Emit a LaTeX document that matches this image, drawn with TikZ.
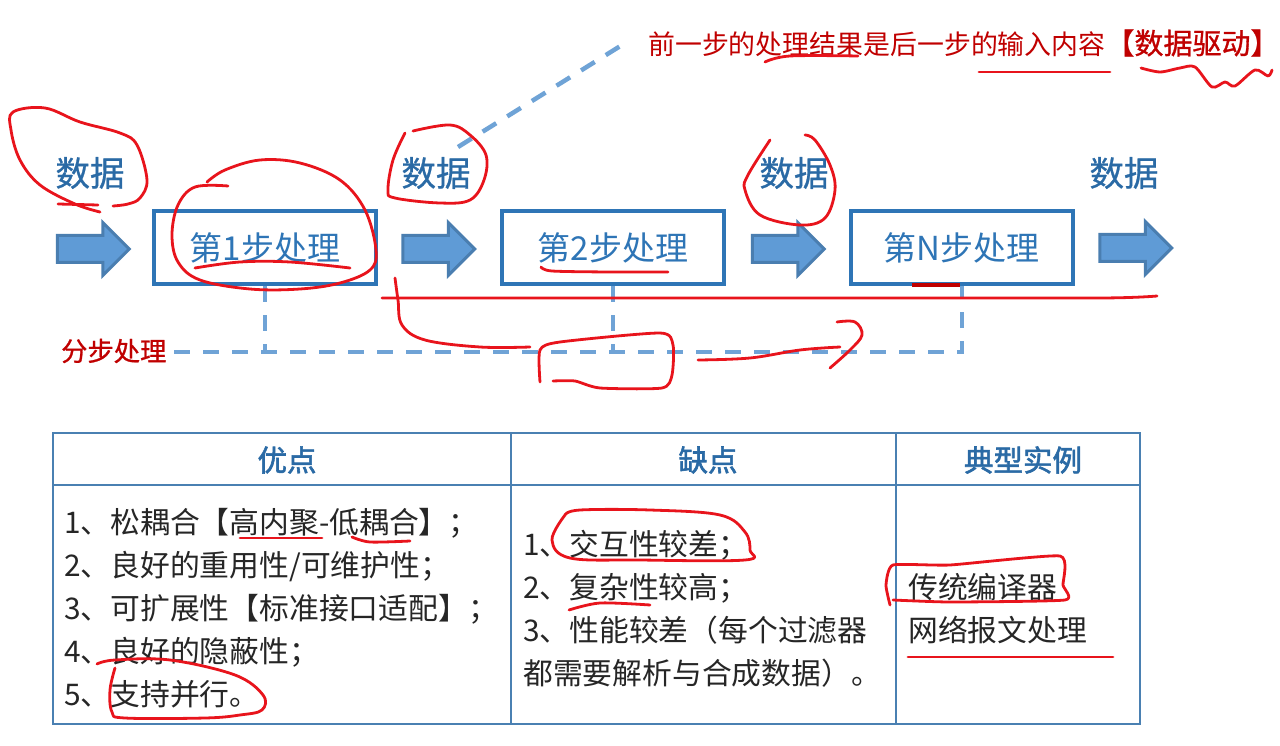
\documentclass[tikz,border=0pt]{standalone}
\usepackage{fontspec}
\setmainfont{Noto Sans CJK SC}
\newfontfamily\medfont[FakeBold=1]{Noto Sans CJK SC}
\newfontfamily\headfont[FakeBold=2]{Noto Sans CJK SC}
\newfontfamily\lightbold[FakeBold=0.8]{Noto Sans CJK SC}
\usetikzlibrary{shapes.arrows}
\definecolor{boxblue}{HTML}{2E75B6}
\definecolor{headblue}{HTML}{2A6AA5}
\definecolor{dashblue}{HTML}{6FA3D6}
\definecolor{arrowfill}{HTML}{5F9BD6}
\definecolor{arrowline}{HTML}{4A7EB0}
\definecolor{tablepen}{HTML}{4A80B2}
\definecolor{ink}{HTML}{262626}
\definecolor{darkred}{HTML}{C00000}
\definecolor{pen}{HTML}{E8141C}
\tikzset{
  stepbox/.style={draw=boxblue,line width=4pt,fill=white,minimum width=222pt,minimum height=73pt,inner sep=0pt,text=boxblue,font=\fontsize{33}{36}\selectfont},
  flow/.style={single arrow,draw=arrowline,fill=arrowfill,line width=3pt,minimum height=72pt,single arrow head extend=13pt,single arrow head indent=0pt,inner xsep=0pt,inner ysep=12pt},
  datatext/.style={text=headblue,font=\fontsize{34.5}{38}\selectfont\lightbold,inner sep=0pt},
  dashline/.style={draw=dashblue,line width=4.5pt,dash pattern=on 16pt off 13pt},
  cell/.style={draw=tablepen,line width=2pt,inner sep=0pt,outer sep=0pt,anchor=north west},
  headtext/.style={text=headblue,font=\fontsize{29.5}{32}\selectfont\headfont,inner sep=0pt},
  rowtext/.style={text=ink,font=\fontsize{29.8}{32}\selectfont,inner sep=0pt,anchor=base west},
  redtext/.style={text=darkred,inner sep=0pt},
  ink stroke/.style={draw=pen,line width=2.8pt,line cap=round,line join=round},
}
\begin{document}
\begin{tikzpicture}[x=1pt,y=-1pt]
\useasboundingbox (0,0) rectangle (1280,746);
% flow
\node[stepbox] (s1) at (265,247.5) {第1步处理};
\node[stepbox] (s2) at (613,247.5) {第2步处理};
\node[stepbox] (s3) at (961.5,247.5) {第N步处理};
\node[flow] (a1) at (86.5,249) {};
\node[flow] (a2) at (432,249) {};
\node[flow] (a3) at (781.5,249) {};
\node[flow] (a4) at (1129,248) {};
\node[datatext] (d1) at (90,173) {数据};
\node[datatext] (d2) at (436,173) {数据};
\node[datatext] (d3) at (794,173) {数据};
\node[datatext] (d4) at (1124,173) {数据};
\node[redtext,font=\fontsize{26.9}{30}\selectfont,anchor=west] (note) at (648,43) {前一步的处理结果是后一步的输入内容{\fontsize{29}{30}\selectfont\medfont 【数据驱动】}};
\node[redtext,font=\fontsize{26.3}{28}\selectfont\medfont,anchor=west] (fen) at (61,351) {分步处理};
\coordinate (bus) at (962,352);
\coordinate (j1) at (265,352);
\coordinate (j2) at (613,352);
\coordinate (noteend) at (622,45);
\coordinate (d2start) at (458,147);
\draw[dashline] (d2start) -- (noteend);
\draw[dashline] (174,352) -- (bus) -- (s3.south -| bus);
\draw[dashline] (s1.south) -- (j1);
\draw[dashline] (s2.south) -- (j2);
% table
\node[cell,minimum width=458pt,minimum height=52pt] (h1) at (53,433) {};
\node[cell,minimum width=385pt,minimum height=52pt] (h2) at (511,433) {};
\node[cell,minimum width=244pt,minimum height=52pt] (h3) at (896,433) {};
\node[cell,minimum width=458pt,minimum height=239pt] (b1) at (53,485) {};
\node[cell,minimum width=385pt,minimum height=239pt] (b2) at (511,485) {};
\node[cell,minimum width=244pt,minimum height=239pt] (b3) at (896,485) {};
\node[headtext] at (287,460) {优点};
\node[headtext] at (708,460) {缺点};
\node[headtext] at (1023,460) {典型实例};
\node[rowtext] at (64,533) {1、松耦合【高内聚-低耦合】；};
\node[rowtext] at (64,576) {2、良好的重用性/可维护性；};
\node[rowtext] at (64,619) {3、可扩展性【标准接口适配】；};
\node[rowtext] at (64,662) {4、良好的隐蔽性；};
\node[rowtext] at (64,705) {5、支持并行。};
\node[rowtext] at (523,555) {1、交互性较差；};
\node[rowtext] at (523,598) {2、复杂性较高；};
\node[rowtext] at (523,641) {3、性能较差（每个过滤器};
\node[rowtext] at (523,684) {都需要解析与合成数据）。};
\node[rowtext] at (908,598) {传统编译器};
\node[rowtext] at (908,641) {网络报文处理};
% handwriting
\draw[draw=darkred,line width=4pt] (912,285) -- (960,285);
\draw[ink stroke] plot[smooth,tension=0.6] coordinates {(100,212)(75,204)(40,185)(20,160)(11,130)(13,112)(45,108)(80,122)(120,133)(137,145)(147,180)(140,198)(128,204)(113,206)};
\draw[ink stroke] (58,204) -- (98,205);
\draw[ink stroke] plot[smooth,tension=0.6] coordinates {(207,182)(225,170)(260,160)(300,163)(340,180)(365,210)(376,250)(370,270)(340,283)(300,289)(250,289)(200,280)(178,262)(172,235)(178,205)(195,187)(228,186)};
\draw[ink stroke] plot[smooth,tension=0.6] coordinates {(195,268)(240,262)(290,262)(350,268)};
\draw[ink stroke] plot[smooth,tension=0.6] coordinates {(405,133)(393,160)(388,190)(395,198)(440,203)(470,200)(484,180)(486,155)(470,135)(450,125)(413,131)};
\draw[ink stroke] plot[smooth,tension=0.6] coordinates {(770,140)(748,175)(745,190)(760,215)(800,225)(825,218)(835,190)(830,165)(815,140)(805,135)};
\draw[ink stroke] plot[smooth,tension=0.3] coordinates {(382,298)(700,298)(1100,298)(1157,296)};
\draw[ink stroke] plot[smooth,tension=0.5] coordinates {(541,267)(552,271)(610,272)(668,272)};
\draw[ink stroke] plot[smooth,tension=0.6] coordinates {(395,278)(398,300)(402,325)(425,340)(480,347)(530,347)};
\draw[ink stroke] plot[smooth,tension=0.4] coordinates {(540,382)(540,350)(560,342)(660,333)(673,345)(672,375)(662,388)(600,388)(575,381)(553,381)};
\draw[ink stroke] plot[smooth,tension=0.6] coordinates {(698,360)(750,358)(800,350)(840,347)};
\draw[ink stroke] plot[smooth,tension=0.6] coordinates {(837,322)(855,322)(862,335)(850,350)(830,368)};
\draw[ink stroke] plot[smooth,tension=0.6] coordinates {(765,62)(790,56)(858,56)};
\draw[ink stroke] (979,72) -- (1110,72);
\draw[ink stroke] plot[smooth,tension=0.5] coordinates {(1141,68)(1160,72)(1180,68)(1195,67)(1212,87)(1225,82)(1235,86)(1255,70)(1268,76)(1272,70)};
\draw[ink stroke] plot[smooth,tension=0.5] coordinates {(240,538)(280,538)(322,538)};
\draw[ink stroke] plot[smooth,tension=0.5] coordinates {(352,537)(370,542)(410,541)};
\draw[ink stroke] plot[smooth,tension=0.6] coordinates {(97,664)(115,660)(170,660)(235,675)(263,695)(262,710)(240,715)(205,718)(125,718)(112,712)(110,690)(115,668)};
\draw[ink stroke] plot[smooth,tension=0.6] coordinates {(565,515)(580,510)(650,510)(720,515)(745,532)(750,550)(745,560)(640,560)(570,558)(552,540)(565,515)};
\draw[ink stroke] plot[smooth,tension=0.5] coordinates {(569,610)(600,603)(650,605)};
\draw[ink stroke] plot[smooth,tension=0.3] coordinates {(890,605)(886,585)(893,565)(950,565)(1060,556)(1063,585)(1065,600)(950,602)(893,600)};
\draw[ink stroke] (908,657) -- (1113,657);
\end{tikzpicture}
\end{document}
